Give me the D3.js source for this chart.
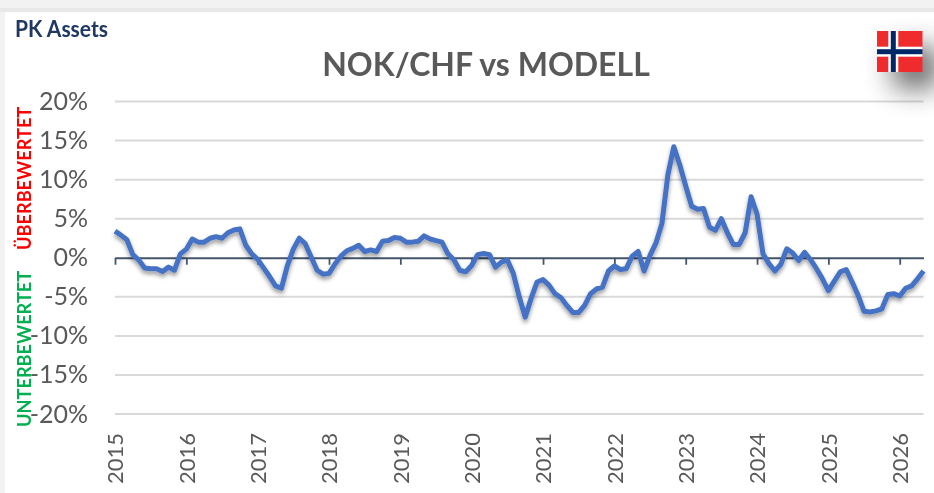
<!DOCTYPE html>
<html>
<head>
<meta charset="utf-8">
<script src="https://cdn.jsdelivr.net/npm/d3@7"></script>
<style>
    html, body { margin: 0; padding: 0; background: #fff; }
    svg { display: block; font-family: Lato, "Open Sans", sans-serif; }
    svg text { font-family: Lato, "Open Sans", sans-serif; }
    .chart { filter: blur(0.4px); }
</style>
</head>
<body>
<svg class="chart" width="934" height="493"></svg>
<script>
// monthly deviation from model in %, starting January 2015
var values = [
    3.4, 2.9, 2.3, 0.4, -0.3, -1.3, -1.4, -1.4, -1.75, -1.2, -1.6, 0.5,
    1.1, 2.4, 2.0, 2.0, 2.5, 2.7, 2.5, 3.2, 3.55, 3.7, 1.6, 0.5,
    -0.2, -1.3, -2.4, -3.6, -3.9, -1.0, 1.1, 2.5, 1.8, 0.1, -1.6, -2.1,
    -2.0, -0.8, 0.2, 0.9, 1.2, 1.6, 0.8, 1.0, 0.8, 2.1, 2.2, 2.6,
    2.5, 2.0, 2.0, 2.1, 2.8, 2.4, 2.2, 2.0, 0.5, -0.25, -1.6, -1.8,
    -1.0, 0.4, 0.55, 0.4, -1.2, -0.55, -0.3, -2.0, -5.0, -7.6, -5.2, -3.1,
    -2.8, -3.5, -4.6, -5.1, -6.1, -7.0, -7.0, -6.1, -4.6, -4.0, -3.75, -1.7,
    -1.06, -1.5, -1.4, 0.2, 0.8, -1.7, 0.3, 1.9, 4.4, 10.6, 14.2, 11.9,
    9.2, 6.6, 6.2, 6.3, 3.9, 3.5, 5.0, 3.2, 1.7, 1.7, 3.2, 7.8,
    5.6, 0.5, -0.75, -1.7, -0.85, 1.15, 0.6, -0.35, 0.7, -0.25, -1.4, -2.7,
    -4.2, -3.0, -1.8, -1.5, -3.1, -4.8, -6.85, -6.95, -6.8, -6.55, -4.7, -4.6,
    -4.9, -3.9, -3.6, -2.7, -1.7
];
var years = [2015, 2016, 2017, 2018, 2019, 2020, 2021, 2022, 2023, 2024, 2025, 2026];
var yTicks = [20, 15, 10, 5, 0, -5, -10, -15, -20];

var svg = d3.select("svg.chart");

var x = d3.scaleLinear().domain([0, values.length - 1]).range([115, 923.5]);
var y = d3.scaleLinear().domain([-20, 20]).range([414, 101.5]);

var defs = svg.append("defs");
var lineShadow = defs.append("filter").attr("id", "lineShadow")
    .attr("x", "-5%").attr("y", "-20%").attr("width", "110%").attr("height", "140%");
lineShadow.append("feDropShadow")
    .attr("dx", 0).attr("dy", 3).attr("stdDeviation", 2.2)
    .attr("flood-color", "#000").attr("flood-opacity", 0.4);
var flagShadow = defs.append("filter").attr("id", "flagShadow")
    .attr("x", "-100%").attr("y", "-100%").attr("width", "300%").attr("height", "300%");
flagShadow.append("feGaussianBlur").attr("stdDeviation", 14);

// page frame behind the chart
svg.append("rect").attr("width", 934).attr("height", 493).attr("fill", "#f2f2f2");
svg.append("rect").attr("x", 0).attr("y", 8).attr("width", 934).attr("height", 4).attr("fill", "#e8e8e8");
svg.append("rect").attr("x", 5).attr("y", 12).attr("width", 929).attr("height", 481).attr("fill", "#fff");

// horizontal grid
svg.append("g").selectAll("line")
    .data(yTicks.filter(function (d) { return d != 0; }))
    .enter().append("line")
    .attr("x1", x.range()[0])
    .attr("x2", x.range()[1])
    .attr("y1", function (d) { return y(d); })
    .attr("y2", function (d) { return y(d); })
    .attr("stroke", "#d9d9d9")
    .attr("stroke-width", 2);

// y axis, labels only
var yAxis = svg.append("g")
    .attr("transform", "translate(115,0)")
    .call(d3.axisLeft(y).tickValues(yTicks).tickSize(0).tickPadding(27)
        .tickFormat(function (d) { return d + "%"; }));
yAxis.select(".domain").remove();
yAxis.selectAll("text")
    .attr("fill", "#595959")
    .style("font-size", "25px");

// x axis sits on the zero line
var xAxis = svg.append("g")
    .attr("transform", "translate(0," + y(0) + ")")
    .call(d3.axisBottom(x)
        .tickValues(years.map(function (d, i) { return i * 12; }))
        .tickSize(7)
        .tickSizeOuter(0)
        .tickFormat(function (d) { return years[d / 12]; }));
xAxis.select(".domain").attr("stroke", "#44546a").attr("stroke-width", 1.8);
xAxis.selectAll(".tick line").attr("stroke", "#44546a").attr("stroke-width", 1.8);
xAxis.selectAll("text")
    .attr("fill", "#595959")
    .attr("text-anchor", "end")
    .attr("transform", "rotate(-90)")
    .attr("x", -(433 - y(0)))
    .attr("y", 0)
    .attr("dy", "0.35em")
    .style("font-size", "22px");

// the series
var line = d3.line()
    .x(function (d, i) { return x(i); })
    .y(function (d) { return y(d); });
svg.append("path")
    .datum(values)
    .attr("d", line)
    .attr("fill", "none")
    .attr("stroke", "#4472c4")
    .attr("stroke-width", 5)
    .attr("stroke-linejoin", "round")
    .attr("filter", "url(#lineShadow)");

// texts
svg.append("text").attr("x", 15).attr("y", 37)
    .attr("fill", "#1f3864")
    .attr("font-weight", 700)
    .style("font-size", "23px")
    .attr("textLength", 93)
    .attr("lengthAdjust", "spacingAndGlyphs")
    .text("PK Assets");
svg.append("text").attr("x", 486).attr("y", 76)
    .attr("text-anchor", "middle")
    .attr("fill", "#595959")
    .attr("font-weight", 700)
    .style("font-size", "32px")
    .text("NOK/CHF vs MODELL");
svg.append("text")
    .attr("transform", "translate(30.5,250) rotate(-90)")
    .attr("fill", "#ff0000")
    .attr("font-weight", 700)
    .style("font-size", "18.2px")
    .text("ÜBERBEWERTET");
svg.append("text")
    .attr("transform", "translate(30.5,427) rotate(-90)")
    .attr("fill", "#00b050")
    .attr("font-weight", 700)
    .style("font-size", "18.2px")
    .text("UNTERBEWERTET");

// norwegian flag with soft shadow
var flag = svg.append("g").attr("transform", "translate(877,31)");
flag.append("rect").attr("x", 16).attr("y", 16).attr("width", 45).attr("height", 41)
    .attr("fill", "#000").attr("opacity", 0.6).attr("filter", "url(#flagShadow)");
flag.append("rect").attr("width", 45.5).attr("height", 41).attr("fill", "#ef2b2d");
flag.append("rect").attr("x", 11.3).attr("width", 10).attr("height", 41).attr("fill", "#fff");
flag.append("rect").attr("y", 15.7).attr("width", 45.5).attr("height", 10).attr("fill", "#fff");
flag.append("rect").attr("x", 13.8).attr("width", 5).attr("height", 41).attr("fill", "#002868");
flag.append("rect").attr("y", 18.2).attr("width", 45.5).attr("height", 5).attr("fill", "#002868");
</script>
</body>
</html>
